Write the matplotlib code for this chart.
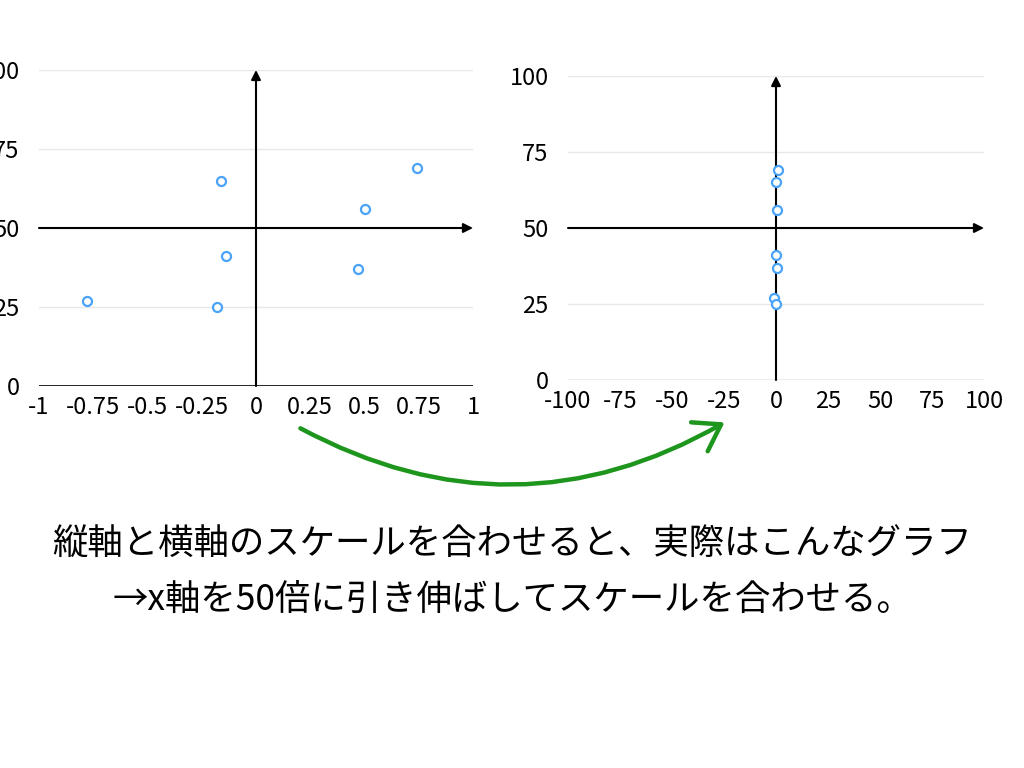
import matplotlib
matplotlib.use('Agg')
import matplotlib.pyplot as plt
from matplotlib.patches import FancyArrowPatch

plt.rcParams['font.family'] = ['Noto Sans CJK JP', 'DejaVu Sans']
plt.rcParams['axes.unicode_minus'] = False

# データ (元のグラフから読み取り)
xs = [-0.78, -0.16, -0.14, -0.18, 0.50, 0.47, 0.74]
ys = [27, 65, 41, 25, 56, 37, 69]

left_xticks = [-1, -0.75, -0.5, -0.25, 0, 0.25, 0.5, 0.75, 1]
left_xlabels = ['-1', '-0.75', '-0.5', '-0.25', '0', '0.25', '0.5', '0.75', '1']
right_xticks = [-100, -75, -50, -25, 0, 25, 50, 75, 100]
right_xlabels = ['-100', '-75', '-50', '-25', '0', '25', '50', '75', '100']
yticks = [0, 25, 50, 75, 100]
ylabels = ['0', '25', '50', '75', '100']

caption1 = '縦軸と横軸のスケールを合わせると、実際はこんなグラフ'
caption2 = '→x軸を50倍に引き伸ばしてスケールを合わせる。'

point_color = '#4aa3f7'
grid_color = '#e8e8e8'


def draw_panel(ax, xmin, xmax, xticks, xlabels, base_color):
    ax.set_xlim(xmin, xmax)
    ax.set_ylim(0, 100)
    for s in ax.spines.values():
        s.set_visible(False)
    for y in [25, 50, 75, 100]:
        ax.axhline(y, color=grid_color, lw=1, zorder=0)
    ax.axhline(0, color=base_color, lw=1.2, zorder=1)
    # 座標軸の矢印
    ax.annotate('', xy=(xmax, 50), xytext=(xmin, 50),
                arrowprops=dict(arrowstyle='-|>', color='black', lw=1.5,
                                mutation_scale=14, shrinkA=0, shrinkB=0))
    ax.annotate('', xy=(0, 100), xytext=(0, 0),
                arrowprops=dict(arrowstyle='-|>', color='black', lw=1.5,
                                mutation_scale=14, shrinkA=0, shrinkB=0))
    ax.plot(xs, ys, 'o', ms=6.5, mfc='white', mec=point_color, mew=1.6,
            zorder=5, clip_on=False)
    ax.set_xticks(xticks)
    ax.set_xticklabels(xlabels)
    ax.set_yticks(yticks)
    ax.set_yticklabels(ylabels)
    ax.tick_params(length=0, labelsize=17, colors='black')
    ax.tick_params(axis='y', pad=14)
    ax.tick_params(axis='x', pad=7)


fig = plt.figure(figsize=(10.24, 7.68), dpi=100)

ax1 = fig.add_axes([39 / 1024, 1 - 386 / 768, 434 / 1024, 316 / 768])
draw_panel(ax1, -1, 1, left_xticks, left_xlabels, 'black')

ax2 = fig.add_axes([568 / 1024, 1 - 380 / 768, 416 / 1024, 304 / 768])
draw_panel(ax2, -100, 100, right_xticks, right_xlabels, grid_color)

# 緑の矢印
arrow = FancyArrowPatch((298 / 1024, 1 - 427 / 768), (727 / 1024, 1 - 421 / 768),
                        transform=fig.transFigure,
                        connectionstyle='arc3,rad=0.28',
                        arrowstyle='->,head_length=0.9,head_width=0.6',
                        color='#1e961e', lw=3.2, mutation_scale=20)
fig.patches.append(arrow)

fig.text(0.5, 1 - 545 / 768, caption1, ha='center', va='center', fontsize=25.5)
fig.text(0.5, 1 - 600 / 768, caption2, ha='center', va='center', fontsize=25.5)

fig.savefig('out.png', dpi=100)
